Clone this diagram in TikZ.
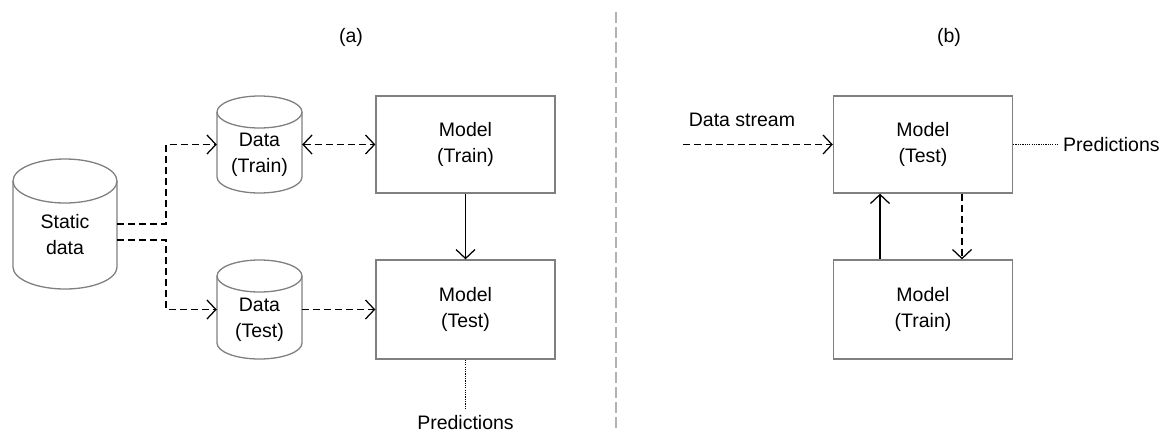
\documentclass[tikz,border=0pt]{standalone}
\usepackage{fontspec}
\setmainfont{Liberation Sans}
\usetikzlibrary{arrows.meta}
\begin{document}
\begin{tikzpicture}[x=1pt,y=-1pt,
  font=\fontsize{19.5}{26}\selectfont,
  box/.style={draw=black!50,line width=1.3pt,minimum width=179pt,minimum height=97pt,inner sep=0pt,align=center},
  slot/.style={inner sep=0pt,align=center},
  tip/.style={Straight Barb[length=9pt,width=19pt]},
  link/.style={line width=1.25pt,-{Straight Barb[length=9pt,width=19pt]}},
  dashlink/.style={link,dash pattern=on 7pt off 4pt},
  dotlink/.style={line width=1.3pt,dash pattern=on 1.2pt off 1.1pt},
  cyl/.style={draw=black!50,line width=1.3pt}]
\useasboundingbox (0,0) rectangle (1168,432);

% cylinder outline: left, right, top, bottom, radius y
\newcommand{\drawcyl}[5]{%
  \pgfmathsetmacro{\rxx}{(#2-#1)/2}%
  \draw[cyl] (#1,#3+#5) -- (#1,#4-#5) arc[start angle=180,end angle=360,x radius=\rxx pt,y radius=#5 pt] -- (#2,#3+#5);
  \draw[cyl] (#1+\rxx,#3+#5) ellipse[x radius=\rxx pt,y radius=#5 pt];}

% panel labels and separator
\node[slot] (pa) at (351,37) {(a)};
\node[slot] (pb) at (949,37) {(b)};
\draw[black!30,line width=2pt,dash pattern=on 11pt off 4pt] (616,12) -- (616,432);

% (a) static setting
\drawcyl{13}{117}{159}{289}{22}
\node[slot,minimum width=104pt,minimum height=130pt] (static) at (65,224) {};
\node[slot] at (65,235) {Static\\data};

\drawcyl{217}{302}{96}{193}{16}
\node[slot,minimum width=85pt,minimum height=97pt] (dtrain) at (259.5,144.5) {};
\node[slot] at (259.5,155) {Data\\(Train)};

\drawcyl{217}{302}{260}{359}{16}
\node[slot,minimum width=85pt,minimum height=99pt] (dtest) at (259.5,309.5) {};
\node[slot] at (259.5,320) {Data\\(Test)};

\node[box] (mtrain) at (465.5,144.5) {Model\\(Train)};
\node[box,minimum height=99pt] (mtest) at (465.5,309.5) {Model\\(Test)};

\coordinate (s1) at (117,224);
\coordinate (s2) at (117,240);
\draw[dashlink] (s1) -- (166,224) |- (dtrain.west);
\draw[dashlink] (s2) -- (166,240) |- (dtest.west);
\draw[dashlink,{Straight Barb[length=9pt,width=19pt]}-{Straight Barb[length=9pt,width=19pt]}] (dtrain.east) -- (mtrain.west);
\draw[dashlink] (dtest.east) -- (mtest.west);
\draw[link] (mtrain.south) -- (mtest.north);
\node[slot] (preda) at (465.5,423) {Predictions};
\coordinate (pa1) at (465.5,408);
\draw[dotlink] (mtest.south) -- (pa1);

% (b) streaming setting
\node[box] (btest) at (923,144.5) {Model\\(Test)};
\node[box,minimum height=99pt] (btrain) at (923,309.5) {Model\\(Train)};
\coordinate (ds) at (683,144.5);
\node[slot] (dslabel) at (742,120) {Data stream};
\draw[dashlink] (ds) -- (btest.west);
\coordinate (pb1) at (1058,144.5);
\draw[dotlink] (btest.east) -- (pb1);
\node[slot,anchor=west] (predb) at (1063,144.5) {Predictions};
\draw[link] (btrain.north -| 880,0) -- (btest.south -| 880,0);
\draw[dashlink] (btest.south -| 962,0) -- (btrain.north -| 962,0);
\end{tikzpicture}
\end{document}
